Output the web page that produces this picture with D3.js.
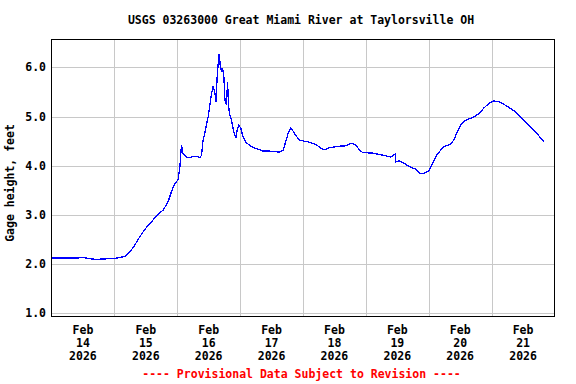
<!DOCTYPE html>
<html>
<head>
<meta charset="utf-8">
<script src="https://cdn.jsdelivr.net/npm/d3@7"></script>
<style>
  body { margin: 0; background: #fff; }
  text { font-family: "DejaVu Sans Mono", monospace; font-weight: bold; font-size: 11.5px; }
</style>
</head>
<body>
<svg width="576" height="384"></svg>
<script>
// hours after Feb 14 2026 00:00, gage height in feet
var hours = [0, 4.9, 10.3, 11.4, 14.1, 16.6, 20.5, 24.2, 28.0, 29.9, 31.8, 33.7, 35.6, 38.1, 40.7, 42.6, 44.5, 46.0, 47.1, 48.3,
  49.0, 49.6, 50.2, 51.5, 52.9, 54.8, 56.7, 57.3, 57.7, 58.6, 59.8, 61.1, 61.7, 62.4, 62.8, 63.3, 64.0, 64.4, 64.9, 65.3,
  65.8, 66.2, 66.8, 67.2, 67.6, 68.1, 68.7, 69.3, 70.0, 70.4, 70.9, 71.5, 72.3, 73.1, 74.4, 76.3, 78.8, 80.8, 83.3, 87.1,
  88.4, 89.4, 90.3, 91.3, 92.2, 93.5, 94.7, 97.9, 101.1, 103.0, 104.2, 106.1, 110.0, 112.5, 114.4, 116.0, 117.5, 118.8, 122.6, 126.4,
  129.6, 131.2, 131.5, 132.7, 134.6, 136.5, 139.1, 140.7, 142.3, 144.2, 145.4, 146.1, 147.3, 148.0, 149.2, 150.5, 152.4, 153.7, 154.9, 156.2,
  158.1, 160.6, 163.2, 165.1, 167.0, 168.9, 170.8, 172.7, 174.6, 177.1, 179.6, 182.2, 184.7, 187.9];
var gage = [2.13, 2.13, 2.13, 2.14, 2.12, 2.10, 2.11, 2.12, 2.16, 2.25, 2.39, 2.56, 2.71, 2.86, 3.02, 3.10, 3.27, 3.51, 3.64, 3.72,
  3.98, 4.42, 4.25, 4.18, 4.17, 4.20, 4.17, 4.22, 4.47, 4.69, 5.00, 5.47, 5.62, 5.47, 5.30, 5.88, 6.28, 6.05, 5.91, 5.98,
  5.81, 5.34, 5.23, 5.71, 5.20, 5.03, 4.93, 4.76, 4.62, 4.58, 4.73, 4.83, 4.76, 4.59, 4.47, 4.39, 4.34, 4.30, 4.30, 4.28,
  4.32, 4.49, 4.66, 4.76, 4.71, 4.60, 4.52, 4.49, 4.43, 4.35, 4.33, 4.37, 4.40, 4.41, 4.46, 4.43, 4.33, 4.27, 4.26, 4.22,
  4.18, 4.24, 4.08, 4.10, 4.05, 3.99, 3.93, 3.85, 3.85, 3.91, 4.05, 4.12, 4.25, 4.28, 4.37, 4.41, 4.44, 4.54, 4.69, 4.83,
  4.93, 4.98, 5.06, 5.18, 5.27, 5.32, 5.30, 5.25, 5.19, 5.10, 4.96, 4.83, 4.69, 4.50];
var yTicks = [1, 2, 3, 4, 5, 6];
var dayLabels = ['14', '15', '16', '17', '18', '19', '20', '21'];
var title = 'USGS 03263000 Great Miami River at Taylorsville OH';
var yTitle = 'Gage height, feet';
var footer = '---- Provisional Data Subject to Revision ----';

var start = new Date(2026, 1, 14);
var end = new Date(2026, 1, 22);
var data = hours.map(function(h, i){
    return {t: new Date(start.getTime() + h * 3600000), v: gage[i]};
});

var svg = d3.select('svg');
var pl = 51.5, pr = 554.5, pt = 39.5, pb = 316.5;

var x = d3.scaleTime().domain([start, end]).range([pl, pr]);
var y = d3.scaleLinear().domain([0.939, 6.569]).range([pb, pt]);

// grid
svg.append('g').selectAll('line')
    .data(yTicks)
    .enter().append('line')
    .attr('x1', pl).attr('x2', pr)
    .attr('y1', function(d){ return Math.round(y(d)) + 0.5; })
    .attr('y2', function(d){ return Math.round(y(d)) + 0.5; })
    .attr('stroke', '#c8c8c8')
    .attr('shape-rendering', 'crispEdges');

var days = d3.timeDay.range(d3.timeDay.offset(start, 1), end);
svg.append('g').selectAll('line')
    .data(days)
    .enter().append('line')
    .attr('x1', function(d){ return Math.round(x(d)) + 0.5; })
    .attr('x2', function(d){ return Math.round(x(d)) + 0.5; })
    .attr('y1', pt).attr('y2', pb)
    .attr('stroke', '#c8c8c8')
    .attr('shape-rendering', 'crispEdges');

// data line
var line = d3.line()
    .x(function(d){ return x(d.t); })
    .y(function(d){ return y(d.v); });

svg.append('path')
    .datum(data)
    .attr('d', line)
    .attr('fill', 'none')
    .attr('stroke', '#0000ff')
    .attr('stroke-width', 1.3)
    .attr('shape-rendering', 'crispEdges');

// frame
svg.append('rect')
    .attr('x', pl).attr('y', pt)
    .attr('width', pr - pl).attr('height', pb - pt)
    .attr('fill', 'none')
    .attr('stroke', '#000')
    .attr('shape-rendering', 'crispEdges');

// y tick labels
svg.append('g').selectAll('text')
    .data(yTicks)
    .enter().append('text')
    .attr('x', 46)
    .attr('y', function(d){ return y(d) + 4; })
    .attr('text-anchor', 'end')
    .text(function(d){ return d3.format('.1f')(d); });

// x labels at noon of each day
var xl = svg.append('g').selectAll('text')
    .data(dayLabels)
    .enter().append('text')
    .attr('text-anchor', 'middle')
    .attr('transform', function(d, i){
        return 'translate(' + x(new Date(2026, 1, 14 + i, 12)) + ',0)';
    });
xl.append('tspan').attr('x', 0).attr('y', 334).text('Feb');
xl.append('tspan').attr('x', 0).attr('y', 347).text(function(d){ return d; });
xl.append('tspan').attr('x', 0).attr('y', 360).text('2026');

svg.append('text')
    .attr('x', 301).attr('y', 24)
    .attr('text-anchor', 'middle')
    .text(title);

svg.append('text')
    .attr('transform', 'translate(14,183) rotate(-90)')
    .attr('text-anchor', 'middle')
    .text(yTitle);

svg.append('text')
    .attr('x', 301.5).attr('y', 378)
    .attr('text-anchor', 'middle')
    .attr('fill', '#ff0000')
    .text(footer);
</script>
</body>
</html>
